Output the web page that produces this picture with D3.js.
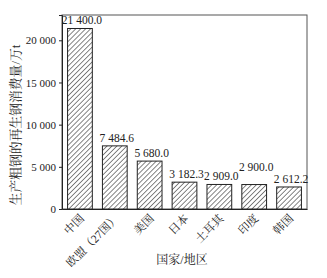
<!DOCTYPE html>
<html><head><meta charset="utf-8">
<script src="https://cdn.jsdelivr.net/npm/d3@7"></script>
<style>body{margin:0;background:#fff}text{font-family:"Liberation Serif","Noto Serif CJK SC","Noto Sans CJK SC",serif;fill:#222}</style>
</head><body><svg id="c" width="327" height="278"></svg>
<script>
const categories = ["中国","欧盟（27国）","美国","日本","土耳其","印度","韩国"];
const values = [21400.0, 7484.6, 5680.0, 3182.3, 2909.0, 2900.0, 2612.2];
const labels = ["21 400.0","7 484.6","5 680.0","3 182.3","2 909.0","2 900.0","2 612.2"];
const yTicks = [0,5000,10000,15000,20000];
const yTickLabels = ["0","5 000","10 000","15 000","20 000"];

const svg = d3.select("#c");
const L=62,R=307,T=15,B=209;
const x = d3.scaleBand().domain(categories).range([L,R]).paddingInner(0.29).paddingOuter(0.16);
const y = d3.scaleLinear().domain([0,23000]).range([B,T]);

const defs = svg.append("defs");
const pat = defs.append("pattern").attr("id","hatch").attr("patternUnits","userSpaceOnUse")
  .attr("width",3.5).attr("height",3.5).attr("patternTransform","rotate(45)");
pat.append("rect").attr("width",3.5).attr("height",3.5).attr("fill","#fff");
pat.append("line").attr("x1",0).attr("y1",0).attr("x2",0).attr("y2",3.5).attr("stroke","#222").attr("stroke-width",1.1);

svg.append("rect").attr("x",L).attr("y",T).attr("width",R-L).attr("height",B-T)
  .attr("fill","none").attr("stroke","#555").attr("stroke-width",1);

svg.selectAll("rect.bar").data(values).enter().append("rect").attr("class","bar")
  .attr("x",(d,i)=>x(categories[i])).attr("width",x.bandwidth())
  .attr("y",d=>y(d)).attr("height",d=>B-y(d))
  .attr("fill","url(#hatch)").attr("stroke","#222").attr("stroke-width",1);

const ya = d3.axisLeft(y).tickValues(yTicks).tickFormat((d,i)=>yTickLabels[i]).tickSize(3).tickPadding(3);
const gy = svg.append("g").attr("transform",`translate(${L},0)`).call(ya);
gy.select(".domain").attr("stroke","#222");
gy.selectAll("text").style("font-size","11px").style("font-family",'"Liberation Serif",serif').attr("fill","#222");
gy.selectAll("line").attr("stroke","#222");

const xa = d3.axisBottom(x).tickSize(0).tickPadding(0);
const gx = svg.append("g").attr("transform",`translate(0,${B})`).call(xa);
gx.select(".domain").attr("stroke","#222");
gx.selectAll("text").style("font-size","11.5px").attr("fill","#222")
  .attr("text-anchor","end").attr("dy",0)
  .attr("transform","translate(5,10) rotate(-45)");

const lift = [0,0,0,0,0,10,0];
svg.selectAll("text.val").data(values).enter().append("text").attr("class","val")
  .attr("x",(d,i)=>x(categories[i])+x.bandwidth()/2+2)
  .attr("y",(d,i)=>y(d)-4-lift[i])
  .attr("text-anchor","middle").style("font-size","11.5px")
  .text((d,i)=>labels[i]);

svg.append("text").attr("x",182).attr("y",264).attr("text-anchor","middle")
  .style("font-size","12px").text("国家/地区");
svg.append("text").attr("transform",`translate(20,125) rotate(-90)`).attr("text-anchor","middle")
  .style("font-size","12.8px").text("生产粗钢的再生钢消费量/万t");
</script></body></html>
